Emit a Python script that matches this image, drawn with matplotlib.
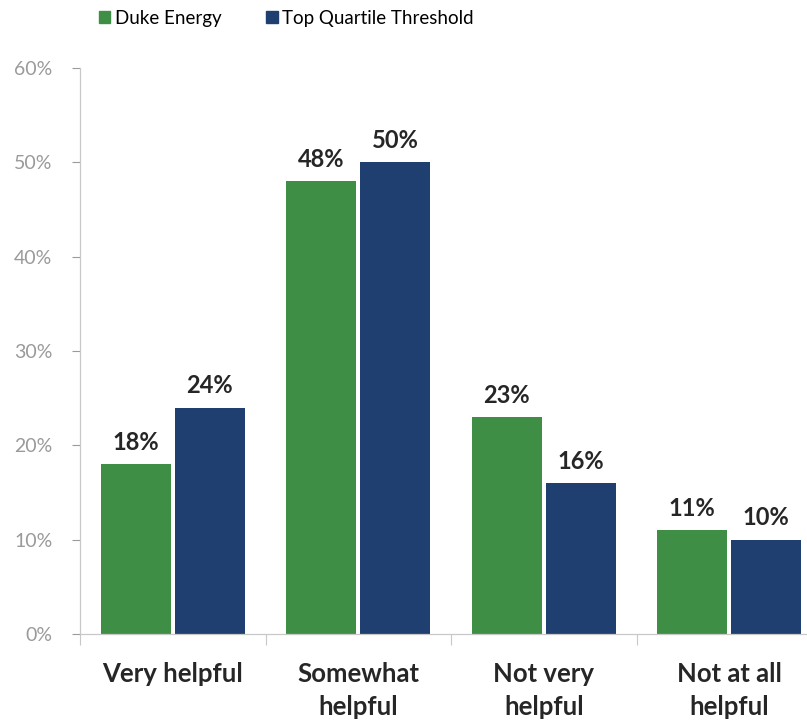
import matplotlib.pyplot as plt
import numpy as np
from matplotlib.patches import Patch
from matplotlib.ticker import FuncFormatter

plt.rcParams["font.family"] = ["Lato", "DejaVu Sans"]

categories = ["Very helpful", "Somewhat\nhelpful", "Not very\nhelpful", "Not at all\nhelpful"]
duke_energy = [18, 48, 23, 11]
top_quartile = [24, 50, 16, 10]
series_names = ["Duke Energy", "Top Quartile Threshold"]

GREEN = "#3e8f45"
BLUE = "#1e3f70"
GREY = "#9a9a9a"

fig = plt.figure(figsize=(8.07, 7.25), dpi=100)
ax = fig.add_axes([80 / 807, 91 / 725, 742 / 807, 566 / 725])

x = np.arange(len(categories))
width = 0.377
gap = 0.011
bars_g = ax.bar(x - width / 2 - gap, duke_energy, width, color=GREEN)
bars_b = ax.bar(x + width / 2 + gap, top_quartile, width, color=BLUE)

for bars, vals in ((bars_g, duke_energy), (bars_b, top_quartile)):
    for rect, v in zip(bars, vals):
        ax.text(rect.get_x() + rect.get_width() / 2, v + 1.1, f"{v}%",
                ha="center", va="bottom", fontsize=17, fontweight="bold", color="#262626")

ax.set_xlim(-0.5, len(categories) - 0.5)
ax.set_ylim(0, 60)
ax.set_yticks(np.arange(0, 61, 10))
ax.yaxis.set_major_formatter(FuncFormatter(lambda v, _: f"{v:.0f}%"))
ax.tick_params(axis="y", colors=GREY, labelsize=14, length=6, width=0.8, pad=14)

# category labels centred, separator ticks between groups
ax.set_xticks(x)
ax.set_xticklabels(categories, fontsize=18.5, fontweight="bold", color="#262626",
                   linespacing=1.45, va="top")
ax.tick_params(axis="x", length=0, pad=20)
ax.set_xticks(np.arange(-0.5, len(categories), 1), minor=True)
ax.tick_params(axis="x", which="minor", length=8, color="#c8c8c8", width=0.8)

for side in ("top", "right"):
    ax.spines[side].set_visible(False)
for side in ("left", "bottom"):
    ax.spines[side].set_color("#c8c8c8")
    ax.spines[side].set_linewidth(0.9)

handles = [Patch(color=GREEN), Patch(color=BLUE)]
fig.legend(handles, series_names, loc="center", bbox_to_anchor=(0.355, 0.975), ncol=2,
           frameon=False, fontsize=13.5, handlelength=0.6, handleheight=0.6,
           handletextpad=0.25, columnspacing=2.4)

fig.savefig("out.png", dpi=100)
